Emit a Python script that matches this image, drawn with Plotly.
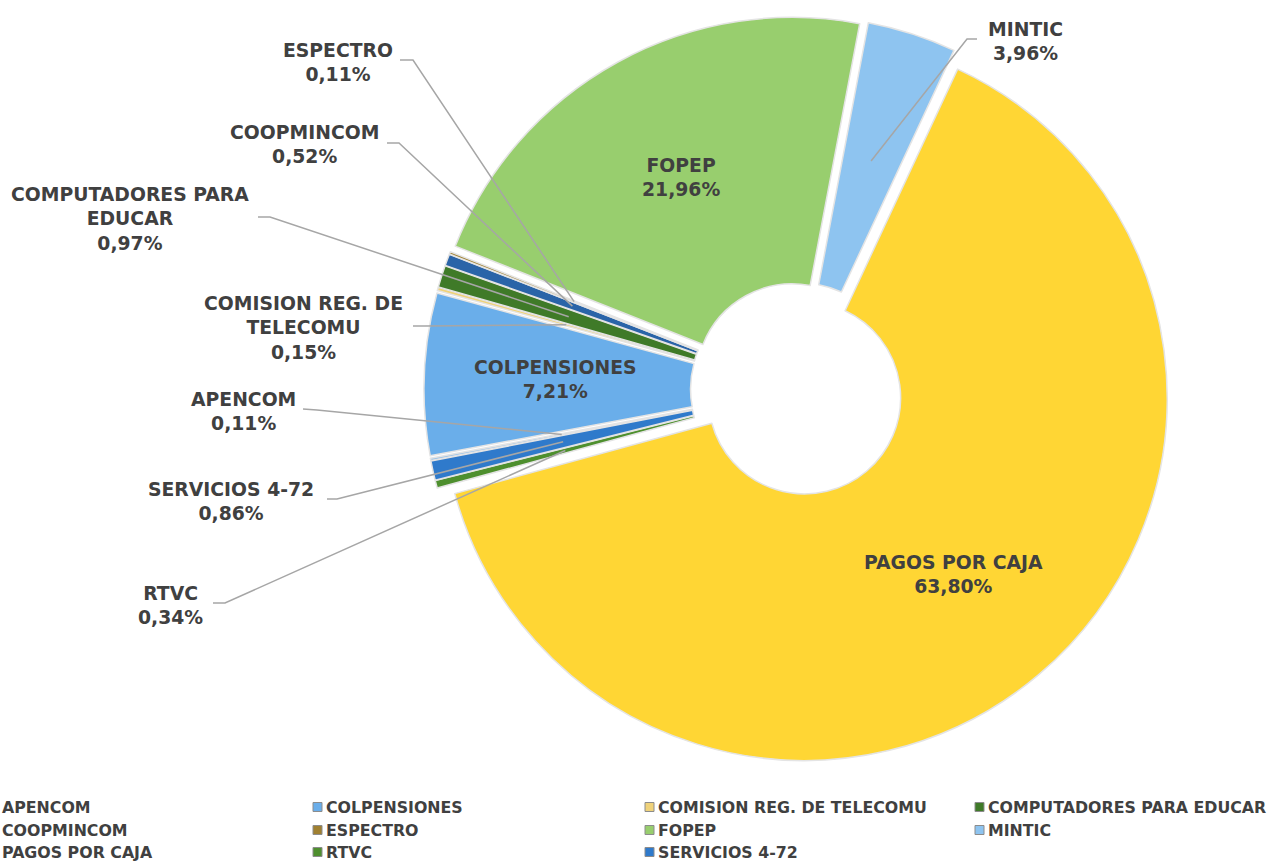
import math
import plotly.graph_objects as go

# ---------------- data ----------------
labels = ["APENCOM", "COLPENSIONES", "COMISION REG. DE TELECOMU", "COMPUTADORES PARA EDUCAR",
          "COOPMINCOM", "ESPECTRO", "FOPEP", "MINTIC", "PAGOS POR CAJA", "RTVC", "SERVICIOS 4-72"]
percent = [0.11, 7.21, 0.15, 0.97, 0.52, 0.11, 21.96, 3.96, 63.80, 0.34, 0.86]
colors = ["#9DC3E6", "#6AAEEA", "#EFD27A", "#3F7A28", "#2A64A8", "#A08030",
          "#98CE6E", "#8EC4F0", "#FFD634", "#4E8F2E", "#2F7ACB"]

# how the data labels are broken into lines in the reference
label_text = {
    "COMISION REG. DE TELECOMU": "COMISION REG. DE<br>TELECOMU",
    "COMPUTADORES PARA EDUCAR": "COMPUTADORES PARA<br>EDUCAR",
}
inside_labels = ["COLPENSIONES", "FOPEP", "PAGOS POR CAJA"]

# ---------------- layout constants (pixels) ----------------
W, H = 1273, 864
PULL = 0.03
HOLE = 0.265
ROTATION = 259
BOX = (424, 16, 1171, 763)  # x0, y0, x1, y1 of the pie domain
TEXT_COLOR = "#404040"
FONT = "DejaVu Sans"

# outside label placement: text centre, leader start, stub end
outside_pos = {
    "ESPECTRO": ((338, 62), (400, 60), (413, 60)),
    "COOPMINCOM": ((304, 144.5), (387, 143), (399, 143)),
    "COMPUTADORES PARA EDUCAR": ((130, 219), (258, 217), (270, 217)),
    "COMISION REG. DE TELECOMU": ((303, 327.5), (413, 326), (425, 326)),
    "APENCOM": ((243, 411.5), (303, 409), (317, 410)),
    "SERVICIOS 4-72": ((231, 501), (327, 499), (337, 499)),
    "RTVC": ((170, 605.5), (213, 603), (225, 603)),
    "MINTIC": ((1025, 41.5), (977, 39), (967, 39)),
}

legend_cols_x = [-11, 313, 645, 975]
legend_rows_y = [807, 830, 852]


def px2paper(x, y):
    return x / W, 1 - y / H


cx = (BOX[0] + BOX[2]) / 2
cy = (BOX[1] + BOX[3]) / 2
R = min(BOX[2] - BOX[0], BOX[3] - BOX[1]) / (2 * (1 + PULL))

total = sum(percent)
mids = []
acc = 0.0
for v in percent:
    mids.append(ROTATION + (acc + v / 2) / total * 360.0)
    acc += v


def polar(angle_deg, r):
    a = math.radians(angle_deg)
    return cx + r * math.sin(a), cy - r * math.cos(a)


def fmt(v):
    return f"{v:.2f}".replace(".", ",") + "%"


fig = go.Figure()
fig.add_trace(go.Pie(
    labels=labels,
    values=percent,
    sort=False,
    direction="clockwise",
    rotation=ROTATION,
    hole=HOLE,
    pull=[PULL] * len(labels),
    marker=dict(colors=colors, line=dict(color="#E4E4E4", width=1.5)),
    textinfo="none",
    hoverinfo="label+percent",
    showlegend=False,
    domain=dict(x=[BOX[0] / W, BOX[2] / W], y=[1 - BOX[3] / H, 1 - BOX[1] / H]),
))

annotations = []
shapes = []
label_font = dict(family=FONT, size=18.8, color=TEXT_COLOR, weight="bold")

for lab, v, mid in zip(labels, percent, mids):
    txt = label_text.get(lab, lab) + "<br>" + fmt(v)
    if lab in inside_labels:
        x, y = polar(mid, 0.667 * R)
        px, py = px2paper(x, y)
        annotations.append(dict(x=px, y=py, xref="paper", yref="paper", text=txt,
                                showarrow=False, font=label_font, align="center",
                                xanchor="center", yanchor="middle"))
    else:
        (tx, ty), (sx, sy), (kx, ky) = outside_pos[lab]
        ex, ey = polar(mid, 0.662 * R)
        px, py = px2paper(tx, ty)
        annotations.append(dict(x=px, y=py, xref="paper", yref="paper", text=txt,
                                showarrow=False, font=label_font, align="center",
                                xanchor="center", yanchor="middle"))
        pts = [px2paper(sx, sy), px2paper(kx, ky), px2paper(ex, ey)]
        path = "M {:.5f} {:.5f} L {:.5f} {:.5f} L {:.5f} {:.5f}".format(
            pts[0][0], pts[0][1], pts[1][0], pts[1][1], pts[2][0], pts[2][1])
        shapes.append(dict(type="path", xref="paper", yref="paper", path=path,
                           line=dict(color="#A6A6A6", width=1.5)))

# legend (4 columns, row-major like the reference)
legend_font = dict(family=FONT, size=15.8, color=TEXT_COLOR, weight="bold")
for i, (lab, col) in enumerate(zip(labels, colors)):
    r, c = divmod(i, 4)
    ix, iy = legend_cols_x[c], legend_rows_y[r]
    x0, y0 = px2paper(ix, iy - 4.5)
    x1, y1 = px2paper(ix + 9, iy + 4.5)
    shapes.append(dict(type="rect", xref="paper", yref="paper", x0=x0, x1=x1, y0=y1, y1=y0,
                       fillcolor=col, line=dict(color="#8C8C8C", width=1)))
    tx, ty = px2paper(ix + 11, iy)
    annotations.append(dict(x=tx, y=ty, xref="paper", yref="paper", text=lab,
                            showarrow=False, font=legend_font, xanchor="left", yanchor="middle"))

fig.update_layout(
    width=W, height=H,
    margin=dict(l=0, r=0, t=0, b=0),
    paper_bgcolor="white",
    plot_bgcolor="white",
    annotations=annotations,
    shapes=shapes,
)

fig.write_html("out.html",
               config={"displayModeBar": False},
               post_script="document.body.style.margin='0';document.body.style.overflow='hidden';")
